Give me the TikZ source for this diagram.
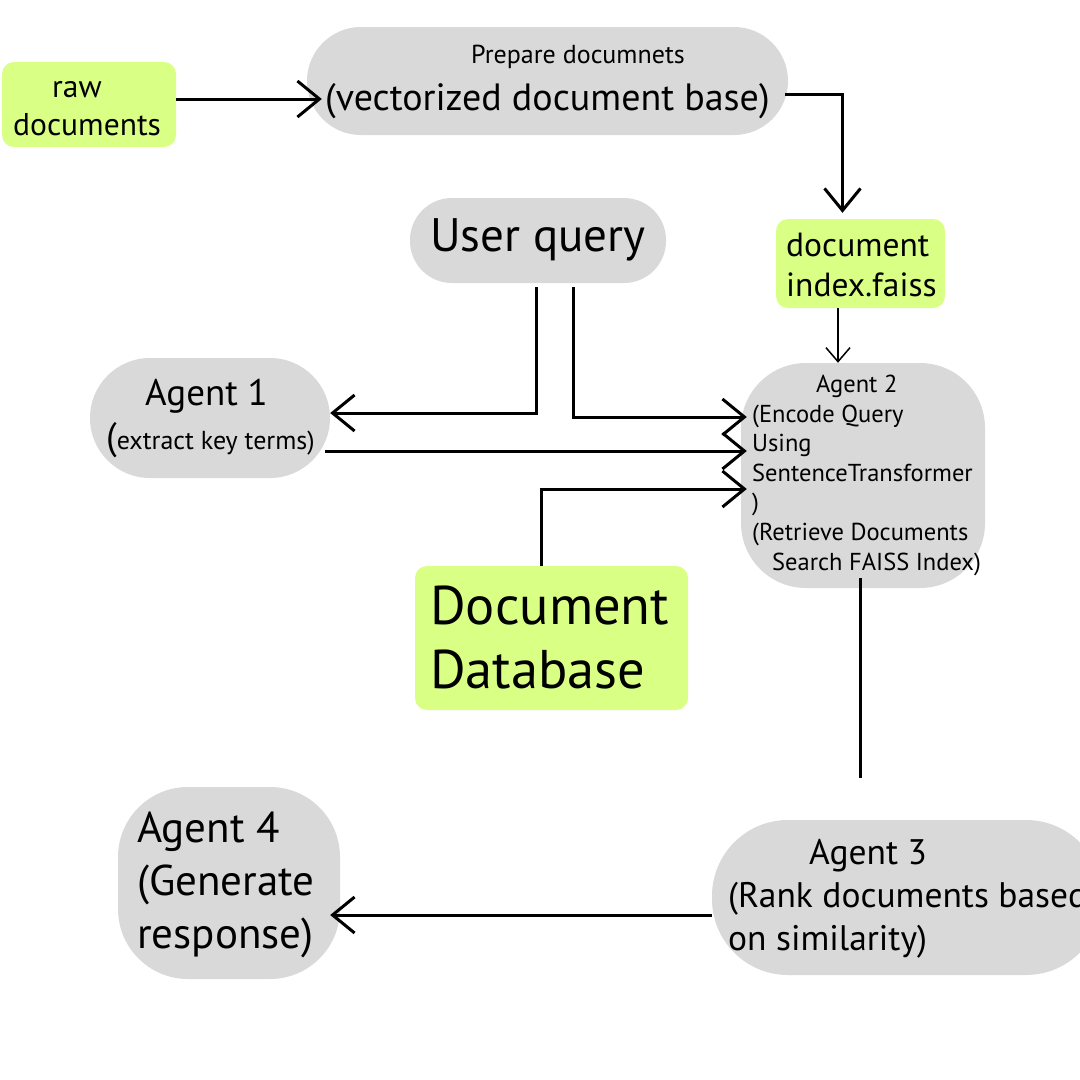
\documentclass[tikz,border=0pt]{standalone}
\usepackage{fontspec}
\setmainfont{PT Sans}
\usetikzlibrary{arrows.meta}
\definecolor{pillgrey}{HTML}{D9D9D9}
\definecolor{leaf}{HTML}{D9FF85}
\tikzset{
  greybox/.style={fill=pillgrey, draw=none, inner sep=0pt},
  greenbox/.style={fill=leaf, draw=none, inner sep=0pt, rounded corners=12pt},
  txt/.style={inner sep=0pt, anchor=base west, text=black},
  arr/.style={line width=3pt, -{Straight Barb[length=22pt,width=36pt,line width=3pt]}},
  thinarr/.style={line width=1.5pt, -{Straight Barb[length=14pt,width=24pt,line width=1.5pt]}},
  plain/.style={line width=3pt}
}
\newcommand{\fsz}[1]{\fontsize{#1}{#1}\selectfont}
\begin{document}
\begin{tikzpicture}[x=1pt,y=-1pt]
\useasboundingbox (0,0) rectangle (1080,1080);
\clip (0,0) rectangle (1080,1080);
\fill[white] (0,0) rectangle (1080,1080);
% shapes
\node[greenbox, minimum width=174pt, minimum height=85pt] (raw) at (89,104.5) {};
\node[greybox, minimum width=481pt, minimum height=108pt, rounded corners=54pt] (prep) at (547.5,81) {};
\node[greenbox, minimum width=169pt, minimum height=89pt] (index) at (860.5,263.5) {};
\node[greybox, minimum width=256pt, minimum height=85pt, rounded corners=42pt] (uq) at (538,240.5) {};
\node[greybox, minimum width=240pt, minimum height=120pt, rounded corners=60pt] (ag1) at (210,418) {};
\node[greybox, minimum width=244pt, minimum height=225pt, rounded corners=65pt] (ag2) at (863,475.5) {};
\node[greenbox, minimum width=273pt, minimum height=144pt] (db) at (551.5,638) {};
\node[greybox, minimum width=222pt, minimum height=192pt, rounded corners=70pt] (ag4) at (229,883) {};
\node[greybox, minimum width=390pt, minimum height=155pt, rounded corners=76pt] (ag3) at (907,897.5) {};
% texts
\node[txt, font=\fsz{31.5}] (t1) at (52,97) {raw};
\node[txt, font=\fsz{31.5}] (t2) at (13,135) {documents};
\node[txt, font=\fsz{26}] (t3) at (471,63) {Prepare documnets};
\node[txt, font=\fsz{38}] (t4) at (325,110) {(vectorized document base)};
\node[txt, font=\fsz{47}] (t5) at (430,251) {User query};
\node[txt, font=\fsz{33.5}] (t6) at (786,256) {document};
\node[txt, font=\fsz{33.5}] (t7) at (786,296) {index.faiss};
\node[txt, font=\fsz{37}] (t8) at (145,405) {Agent 1};
\node[txt, font=\fsz{26}] (t9) at (106,449) {{\fsz{38}(}extract key terms)};
\node[txt, font=\fsz{24.5}] (t10) at (816,392) {Agent 2};
\node[txt, font=\fsz{24.5}] (t11) at (752,422) {(Encode Query};
\node[txt, font=\fsz{24.5}] (t12) at (752,451) {Using};
\node[txt, font=\fsz{24.5}] (t13) at (752,481) {SentenceTransformer};
\node[txt, font=\fsz{24.5}] (t14) at (752,510) {)};
\node[txt, font=\fsz{24.5}] (t15) at (752,540) {(Retrieve Documents};
\node[txt, font=\fsz{24.5}] (t16) at (772,570) {Search FAISS Index)};
\node[txt, font=\fsz{54.5}] (t17) at (430,624) {Document};
\node[txt, font=\fsz{54.5}] (t18) at (430,688) {Database};
\node[txt, font=\fsz{43}] (t19) at (137,842) {Agent 4};
\node[txt, font=\fsz{43}] (t20) at (137,895) {(Generate};
\node[txt, font=\fsz{43}] (t21) at (137,948) {response)};
\node[txt, font=\fsz{35.5}] (t22) at (809,864) {Agent 3};
\node[txt, font=\fsz{35.5}] (t23) at (728,907) {(Rank documents based};
\node[txt, font=\fsz{35.5}] (t24) at (728,950) {on similarity)};
% connectors
\draw[arr] ([yshift=5.5pt]raw.east) -- ([xshift=15pt,yshift=-18pt]prep.west);
\draw[arr] ([xshift=-3pt,yshift=-13pt]prep.east) -| ([xshift=-18pt,yshift=6pt]index.north);
\draw[thinarr] ([xshift=-22.5pt]index.south) -- ([xshift=-22.5pt]index.south |- ag2.north);
\draw[arr] ([xshift=-2pt,yshift=-4pt]uq.south) |- ([yshift=5pt]ag1.east);
\draw[arr] ([xshift=35pt,yshift=-4pt]uq.south) |- ([xshift=6pt,yshift=58.5pt]ag2.west);
\draw[arr] ([xshift=-5pt,yshift=-33pt]ag1.east) -- ([xshift=6pt,yshift=24.5pt]ag2.west);
\draw[arr] ([xshift=-10.5pt]db.north) |- ([xshift=6pt,yshift=-13.5pt]ag2.west);
\coordinate (a3top) at (860,778);
\draw[plain] ([xshift=-3pt,yshift=10pt]ag2.south) -- (a3top);
\draw[arr] ([yshift=-17.5pt]ag3.west) -- ([xshift=-10pt,yshift=-32pt]ag4.east);
\end{tikzpicture}
\end{document}
